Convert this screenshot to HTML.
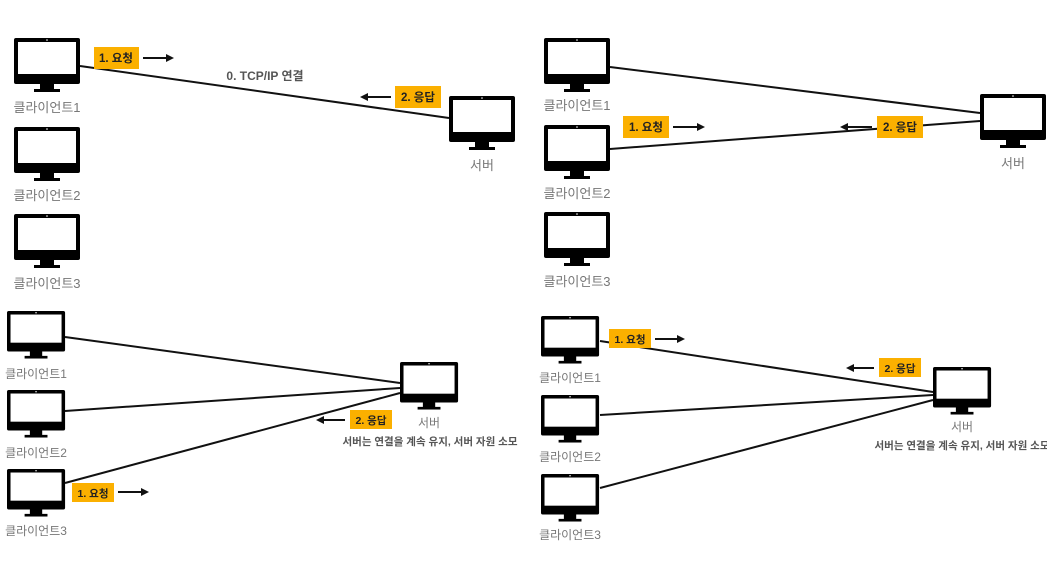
<!DOCTYPE html>
<html><head><meta charset="utf-8"><style>
body{margin:0;background:#fff;}
svg{display:block;}
text{font-family:"Liberation Sans","Noto Sans CJK KR",sans-serif;}
.lbl{fill:#777;font-size:13px;}
.blbl{fill:#555;font-size:12px;font-weight:bold;}
.ob{fill:#fbb000;}
.ot{fill:#222;font-size:11.5px;font-weight:bold;}
line.c{stroke:#111;stroke-width:2;}
</style></head><body>
<svg width="1047" height="563" viewBox="0 0 1047 563">
<defs>
<g id="m">
<rect x="0" y="0" width="66" height="46" rx="2" fill="#000"/>
<rect x="4" y="4" width="58" height="32" fill="#fff"/>
<circle cx="33" cy="2" r="0.8" fill="#fff"/>
<rect x="26" y="46" width="14" height="6" fill="#000"/>
<rect x="20" y="51" width="26" height="3" fill="#000"/>
</g>
<marker id="ah" markerWidth="8" markerHeight="8" refX="6" refY="4" orient="auto" markerUnits="userSpaceOnUse"><path d="M0,0 L8,4 L0,8 Z" fill="#111"/></marker>
</defs>

<!-- Panel 1 -->
<line class="c" x1="80" y1="66" x2="449" y2="118"/>
<use href="#m" x="14" y="38"/><use href="#m" x="14" y="127"/><use href="#m" x="14" y="214"/>
<use href="#m" x="449" y="96"/>
<text class="lbl" x="47" y="112" text-anchor="middle">클라이언트1</text>
<text class="lbl" x="47" y="200" text-anchor="middle">클라이언트2</text>
<text class="lbl" x="47" y="288" text-anchor="middle">클라이언트3</text>
<text class="lbl" x="482" y="170" text-anchor="middle">서버</text>
<text class="blbl" x="265" y="80" text-anchor="middle">0. TCP/IP 연결</text>
<rect class="ob" x="94" y="47" width="45" height="22"/><text class="ot" x="116" y="62" text-anchor="middle">1. 요청</text>
<line x1="143" y1="58" x2="172" y2="58" stroke="#111" stroke-width="2" marker-end="url(#ah)"/>
<rect class="ob" x="395" y="86" width="46" height="22"/><text class="ot" x="418" y="101" text-anchor="middle">2. 응답</text>
<line x1="391" y1="97" x2="362" y2="97" stroke="#111" stroke-width="2" marker-end="url(#ah)"/>

<!-- Panel 2 -->
<line class="c" x1="610" y1="67" x2="980" y2="113"/>
<line class="c" x1="610" y1="149" x2="980" y2="121"/>
<use href="#m" x="544" y="38"/><use href="#m" x="544" y="125"/><use href="#m" x="544" y="212"/>
<use href="#m" x="980" y="94"/>
<text class="lbl" x="577" y="110" text-anchor="middle">클라이언트1</text>
<text class="lbl" x="577" y="198" text-anchor="middle">클라이언트2</text>
<text class="lbl" x="577" y="286" text-anchor="middle">클라이언트3</text>
<text class="lbl" x="1013" y="168" text-anchor="middle">서버</text>
<rect class="ob" x="623" y="116" width="46" height="22"/><text class="ot" x="646" y="131" text-anchor="middle">1. 요청</text>
<line x1="673" y1="127" x2="703" y2="127" stroke="#111" stroke-width="2" marker-end="url(#ah)"/>
<rect class="ob" x="877" y="116" width="46" height="22"/><text class="ot" x="900" y="131" text-anchor="middle">2. 응답</text>
<line x1="872" y1="127" x2="842" y2="127" stroke="#111" stroke-width="2" marker-end="url(#ah)"/>

<!-- Panel 3 -->
<line class="c" x1="65" y1="337" x2="400" y2="383"/>
<line class="c" x1="65" y1="411" x2="400" y2="388"/>
<line class="c" x1="65" y1="483" x2="400" y2="393"/>
<g transform="translate(7,311) scale(0.88)"><use href="#m"/></g>
<g transform="translate(7,390) scale(0.88)"><use href="#m"/></g>
<g transform="translate(7,469) scale(0.88)"><use href="#m"/></g>
<g transform="translate(400,362) scale(0.88)"><use href="#m"/></g>
<text class="lbl" x="36" y="378" text-anchor="middle" style="font-size:12px">클라이언트1</text>
<text class="lbl" x="36" y="457" text-anchor="middle" style="font-size:12px">클라이언트2</text>
<text class="lbl" x="36" y="535" text-anchor="middle" style="font-size:12px">클라이언트3</text>
<text class="lbl" x="429" y="427" text-anchor="middle" style="font-size:12px">서버</text>
<text class="blbl" x="430" y="445" text-anchor="middle" style="font-size:10.5px">서버는 연결을 계속 유지, 서버 자원 소모</text>
<rect class="ob" x="350" y="410" width="42" height="19"/><text class="ot" x="371" y="424" text-anchor="middle" style="font-size:10.5px">2. 응답</text>
<line x1="345" y1="420" x2="318" y2="420" stroke="#111" stroke-width="2" marker-end="url(#ah)"/>
<rect class="ob" x="72" y="483" width="42" height="19"/><text class="ot" x="93" y="497" text-anchor="middle" style="font-size:10.5px">1. 요청</text>
<line x1="118" y1="492" x2="147" y2="492" stroke="#111" stroke-width="2" marker-end="url(#ah)"/>

<!-- Panel 4 -->
<line class="c" x1="600" y1="341" x2="933" y2="392"/>
<line class="c" x1="600" y1="415" x2="933" y2="395"/>
<line class="c" x1="600" y1="488" x2="933" y2="400"/>
<g transform="translate(541,316) scale(0.88)"><use href="#m"/></g>
<g transform="translate(541,395) scale(0.88)"><use href="#m"/></g>
<g transform="translate(541,474) scale(0.88)"><use href="#m"/></g>
<g transform="translate(933,367) scale(0.88)"><use href="#m"/></g>
<text class="lbl" x="570" y="382" text-anchor="middle" style="font-size:12px">클라이언트1</text>
<text class="lbl" x="570" y="461" text-anchor="middle" style="font-size:12px">클라이언트2</text>
<text class="lbl" x="570" y="539" text-anchor="middle" style="font-size:12px">클라이언트3</text>
<text class="lbl" x="962" y="431" text-anchor="middle" style="font-size:12px">서버</text>
<text class="blbl" x="962" y="449" text-anchor="middle" style="font-size:10.5px">서버는 연결을 계속 유지, 서버 자원 소모</text>
<rect class="ob" x="609" y="329" width="42" height="19"/><text class="ot" x="630" y="343" text-anchor="middle" style="font-size:10.5px">1. 요청</text>
<line x1="655" y1="339" x2="683" y2="339" stroke="#111" stroke-width="2" marker-end="url(#ah)"/>
<rect class="ob" x="879" y="358" width="42" height="19"/><text class="ot" x="900" y="372" text-anchor="middle" style="font-size:10.5px">2. 응답</text>
<line x1="874" y1="368" x2="848" y2="368" stroke="#111" stroke-width="2" marker-end="url(#ah)"/>
</svg>
</body></html>
